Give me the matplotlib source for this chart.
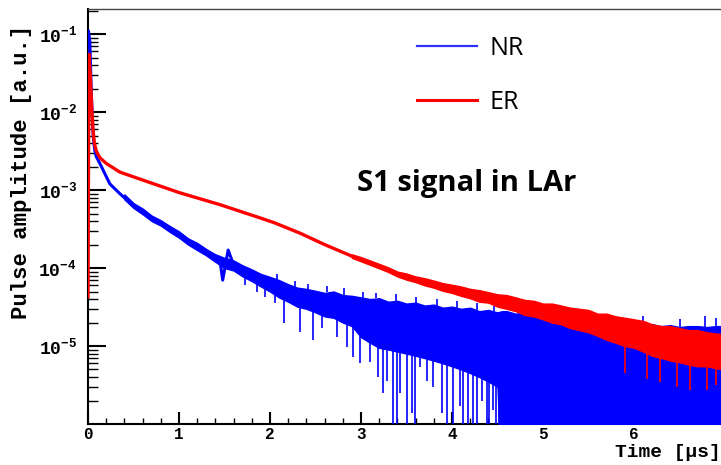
import numpy as np
import matplotlib.pyplot as plt
from matplotlib.lines import Line2D
from matplotlib.ticker import FixedLocator, MultipleLocator, FuncFormatter, NullFormatter

plt.rcParams['mathtext.fontset'] = 'custom'
plt.rcParams['mathtext.rm'] = 'Liberation Mono:bold'
plt.rcParams['mathtext.bf'] = 'Liberation Mono:bold'

# --- NR (blue): prompt part (time in us, amplitude a.u.)
nr_t = [0.0, 0.005, 0.02, 0.035, 0.05, 0.06, 0.075, 0.09, 0.13, 0.24, 0.35, 0.49,
        0.68, 0.9, 1.12, 1.34, 1.45, 1.48, 1.54, 1.6, 1.67, 1.8]
nr_amp = [1e-3, 0.11, 0.08, 0.02, 7e-3, 4.5e-3, 3.2e-3, 2.7e-3, 2.2e-3, 1.2e-3, 9e-4, 6.4e-4,
          4.5e-4, 3.2e-4, 2.1e-4, 1.5e-4, 1.25e-4, 7e-5, 1.7e-4, 1.1e-4, 9.3e-5, 8e-5]

# NR noise band: upper / lower edge of the solid blue (1e-7 = below the axis)
nr_band_t = [0.4, 0.5, 0.6, 0.7, 0.8, 0.9, 1.0, 1.1, 1.2, 1.3, 1.4, 1.5, 1.6, 1.7, 1.8, 1.9,
             2.0, 2.1, 2.2, 2.3, 2.4, 2.5, 2.6, 2.7, 2.8, 2.9, 3.0, 3.1, 3.2, 3.3, 3.4, 3.5,
             3.6, 3.7, 3.8, 3.9, 4.0, 4.1, 4.2, 4.3, 4.4, 4.5, 4.55, 4.6, 4.7, 4.8, 4.9, 5.0,
             5.1, 5.2, 5.3, 5.4, 5.5, 5.6, 5.7, 5.8, 5.9, 6.0, 6.1, 6.2, 6.3, 6.4, 6.5, 6.6,
             6.7, 6.8, 6.9, 7.0]
nr_band_hi = [8.8e-4, 6.8e-4, 5.8e-4, 4.7e-4, 4.1e-4, 3.45e-4, 2.95e-4, 2.4e-4, 2.1e-4, 1.75e-4,
              1.5e-4, 1.35e-4, 1.25e-4, 1.08e-4, 9.6e-5, 8.4e-5, 7.7e-5, 7.0e-5, 6.2e-5, 5.6e-5,
              5.4e-5, 5.1e-5, 4.8e-5, 5.0e-5, 4.5e-5, 4.4e-5, 4.2e-5, 4.0e-5, 4.1e-5, 3.7e-5,
              3.8e-5, 3.5e-5, 3.6e-5, 3.3e-5, 3.4e-5, 3.1e-5, 3.2e-5, 3.0e-5, 3.1e-5, 2.8e-5,
              2.9e-5, 2.7e-5, 2.8e-5, 2.8e-5, 2.6e-5, 2.7e-5, 2.5e-5, 2.6e-5, 2.4e-5, 2.3e-5,
              2.4e-5, 2.2e-5, 2.2e-5, 2.0e-5, 2.1e-5, 1.9e-5, 2.0e-5, 1.9e-5, 1.8e-5, 1.9e-5,
              1.8e-5, 1.85e-5, 1.75e-5, 1.8e-5, 1.8e-5, 1.75e-5, 1.8e-5, 1.8e-5]
nr_band_lo = [7.6e-4, 5.9e-4, 4.9e-4, 4.0e-4, 3.5e-4, 2.9e-4, 2.45e-4, 2.0e-4, 1.7e-4, 1.45e-4,
              1.2e-4, 1.0e-4, 9.3e-5, 7.8e-5, 6.8e-5, 5.8e-5, 5.0e-5, 4.2e-5, 3.7e-5, 3.2e-5,
              3.0e-5, 2.7e-5, 2.4e-5, 2.3e-5, 2.0e-5, 1.8e-5, 1.3e-5, 1.1e-5, 9.5e-6, 9e-6,
              8.5e-6, 8e-6, 7.5e-6, 7e-6, 6.5e-6, 6e-6, 5.5e-6, 5e-6, 4.5e-6, 4e-6,
              3.5e-6, 3e-6, 1e-7, 1e-7, 1e-7, 1e-7, 1e-7, 1e-7, 1e-7, 1e-7,
              1e-7, 1e-7, 1e-7, 1e-7, 1e-7, 1e-7, 1e-7, 1e-7, 1e-7, 1e-7,
              1e-7, 1e-7, 1e-7, 1e-7, 1e-7, 1e-7, 1e-7, 1e-7]

# NR downward spikes
nr_dip_t = [1.72, 1.86, 1.95, 2.05, 2.15, 2.33, 2.47, 2.57, 2.74, 2.85, 2.91, 2.99, 3.10, 3.19,
            3.24, 3.29, 3.35, 3.40, 3.43, 3.51, 3.56, 3.59, 3.65, 3.73, 3.79, 3.89, 3.95, 4.01,
            4.09, 4.12, 4.18, 4.23, 4.28, 4.33, 4.38, 4.41, 4.45, 4.48, 4.52]
nr_dip_amp = [6e-5, 5e-5, 4.2e-5, 3.6e-5, 1.95e-5, 1.5e-5, 1.2e-5, 1.7e-5, 1.3e-5, 9.8e-6, 7.3e-6,
              6.0e-6, 6.2e-6, 4.0e-6, 2.5e-6, 3.6e-6, 1e-7, 1e-7, 2.5e-6, 1e-7, 1.4e-6, 1e-7,
              5.4e-6, 3.6e-6, 3.0e-6, 1.4e-6, 1e-7, 1e-7, 1.7e-6, 1e-7, 1e-7, 1e-7, 1e-7, 2e-6,
              1e-7, 1e-7, 1.5e-6, 1e-7, 1e-7]

# NR upward spikes on the top edge
nr_spk_t = [2.08, 2.27, 2.42, 2.63, 2.81, 3.02, 3.17, 3.38, 3.6, 3.84, 4.05, 4.27, 4.46, 4.75,
            5.05, 5.4, 5.8, 6.1, 6.5, 6.78, 6.9]
nr_spk_amp = [8.5e-5, 6.8e-5, 6.3e-5, 5.8e-5, 5.6e-5, 5.0e-5, 4.8e-5, 4.6e-5, 4.3e-5, 4.0e-5,
              3.8e-5, 3.6e-5, 3.3e-5, 3.2e-5, 3.2e-5, 2.7e-5, 2.3e-5, 2.4e-5, 2.2e-5, 2.4e-5, 2.3e-5]

# --- ER (red)
er_t = [0.0, 0.01, 0.025, 0.04, 0.055, 0.07, 0.09, 0.13, 0.2, 0.35, 0.68, 1.0, 1.45, 1.89,
        2.05, 2.33, 2.6, 2.9]
er_amp = [4.3e-5, 0.055, 0.03, 0.012, 6e-3, 4e-3, 3.2e-3, 2.6e-3, 2.2e-3, 1.7e-3, 1.25e-3,
          9.3e-4, 6.5e-4, 4.4e-4, 3.8e-4, 2.8e-4, 2.0e-4, 1.42e-4]

er_band_t = [2.9, 3.0, 3.1, 3.2, 3.3, 3.4, 3.5, 3.6, 3.7, 3.8, 3.9, 4.0, 4.1, 4.2, 4.3, 4.4,
             4.5, 4.6, 4.7, 4.8, 4.9, 5.0, 5.1, 5.2, 5.3, 5.4, 5.5, 5.6, 5.7, 5.8, 5.9, 6.0,
             6.1, 6.2, 6.3, 6.4, 6.5, 6.6, 6.7, 6.8, 6.9, 7.0]
er_band_hi = [1.5e-4, 1.38e-4, 1.25e-4, 1.13e-4, 1.02e-4,
              9.0e-5, 8.5e-5, 7.8e-5, 7.4e-5, 6.9e-5, 6.4e-5, 6.1e-5, 5.8e-5, 5.4e-5, 5.2e-5,
              4.9e-5, 4.6e-5, 4.5e-5, 4.2e-5, 3.9e-5, 3.8e-5, 3.5e-5, 3.5e-5, 3.3e-5, 3.1e-5,
              3.0e-5, 2.9e-5, 2.6e-5, 2.6e-5, 2.4e-5, 2.3e-5, 2.2e-5, 2.1e-5, 1.9e-5, 1.8e-5,
              1.8e-5, 1.7e-5, 1.6e-5, 1.6e-5, 1.5e-5, 1.45e-5, 1.4e-5]
er_band_lo = [1.35e-4, 1.22e-4, 1.1e-4, 9.9e-5, 8.9e-5,
              7.8e-5, 7.1e-5, 6.6e-5, 6.0e-5, 5.6e-5, 5.1e-5, 4.8e-5, 4.4e-5, 4.1e-5, 3.7e-5,
              3.6e-5, 3.2e-5, 3.0e-5, 2.8e-5, 2.5e-5, 2.4e-5, 2.2e-5, 2.0e-5, 1.9e-5, 1.7e-5,
              1.6e-5, 1.5e-5, 1.35e-5, 1.2e-5, 1.1e-5, 1.0e-5, 9.5e-6, 8.5e-6, 7.5e-6, 7e-6,
              6.5e-6, 6.2e-6, 5.8e-6, 5.5e-6, 5.5e-6, 5.2e-6, 5e-6]

er_dip_t = [5.9, 6.14, 6.29, 6.47, 6.62, 6.80, 6.9]
er_dip_amp = [4.5e-6, 3.8e-6, 3.5e-6, 3.0e-6, 2.7e-6, 2.7e-6, 3.2e-6]

BLUE = '#0000ff'
RED = '#ff0000'

fig = plt.figure(figsize=(7.21, 4.65), dpi=100)
# axes runs past the right edge of the picture, as in the original crop
ax = fig.add_axes([88 / 721, 1 - 424 / 465, 7.5 * 91 / 721, 415 / 465])
ax.set_yscale('log')
ax.set_xlim(0, 7.5)
ax.set_ylim(1e-6, 0.21)

# NR
ax.fill_between(nr_band_t, nr_band_lo, nr_band_hi, color=BLUE, lw=1.0, ec=BLUE, zorder=3)
ax.plot(nr_t, nr_amp, color=BLUE, lw=2.2, zorder=3)
ax.vlines(nr_dip_t, nr_dip_amp, np.interp(nr_dip_t, nr_band_t, nr_band_lo), color=BLUE, lw=1.2, zorder=3)
ax.vlines(nr_spk_t, np.interp(nr_spk_t, nr_band_t, nr_band_hi), nr_spk_amp, color=BLUE, lw=1.2, zorder=3)

# ER
ax.fill_between(er_band_t, er_band_lo, er_band_hi, color=RED, lw=1.0, ec=RED, zorder=4)
ax.plot(er_t, er_amp, color=RED, lw=2.4, zorder=4)
ax.vlines(er_dip_t, er_dip_amp, np.interp(er_dip_t, er_band_t, er_band_lo), color=RED, lw=1.2, zorder=4)

# ROOT-like frame
for s in ['left', 'bottom']:
    ax.spines[s].set_linewidth(1.5)
ax.spines['top'].set_linewidth(1.0)
ax.spines['top'].set_color('#444444')
ax.spines['right'].set_visible(False)

ax.xaxis.set_major_locator(MultipleLocator(1))
ax.xaxis.set_minor_locator(MultipleLocator(0.2))
ax.yaxis.set_major_locator(FixedLocator([1e-5, 1e-4, 1e-3, 1e-2, 1e-1]))
minor = [m * 10.0 ** e for e in range(-6, 0) for m in range(2, 10) if m * 10.0 ** e < 0.21]
ax.yaxis.set_minor_locator(FixedLocator(minor))
ax.yaxis.set_minor_formatter(NullFormatter())
ax.yaxis.set_major_formatter(FuncFormatter(lambda v, p: r'$\mathbf{10^{%d}}$' % round(np.log10(v))))
ax.xaxis.set_major_formatter(FuncFormatter(lambda v, p: '%d' % v))

ax.tick_params(axis='y', which='major', direction='in', length=13, width=1.5, pad=8, labelsize=13)
ax.tick_params(axis='y', which='minor', direction='in', length=7, width=1.0)
ax.tick_params(axis='x', which='major', direction='in', length=9, width=1.5, pad=2, labelsize=11.5)
ax.tick_params(axis='x', which='minor', direction='in', length=4.5, width=1.0)
for lab in ax.get_xticklabels():
    lab.set_fontfamily('Liberation Mono')
    lab.set_fontweight('bold')

fig.text(22 / 721, 1 - 172 / 465, 'Pulse amplitude [a.u.]', rotation=90, ha='center', va='center',
         family='Liberation Mono', fontweight='bold', fontsize=16)
fig.text(615 / 721, 1 - 452 / 465, 'Time [\u03bcs]', ha='left', va='center',
         family='Liberation Mono', fontweight='bold', fontsize=14)

# legend
handles = [Line2D([], [], color='#3030ff', lw=1.6), Line2D([], [], color=RED, lw=2.2)]
fig.legend(handles, ['NR', 'ER'], loc='upper left', bbox_to_anchor=(417 / 721, 1 - 36 / 465),
           frameon=False, handlelength=2.4, handletextpad=0.5, labelspacing=1.15,
           borderpad=0, borderaxespad=0, prop={'family': 'Open Sans', 'size': 18})

fig.text(357 / 721, 1 - 183 / 465, 'S1 signal in LAr', ha='left', va='center',
         family='Open Sans', fontweight='bold', fontsize=21)

fig.savefig('out.png', dpi=100)
